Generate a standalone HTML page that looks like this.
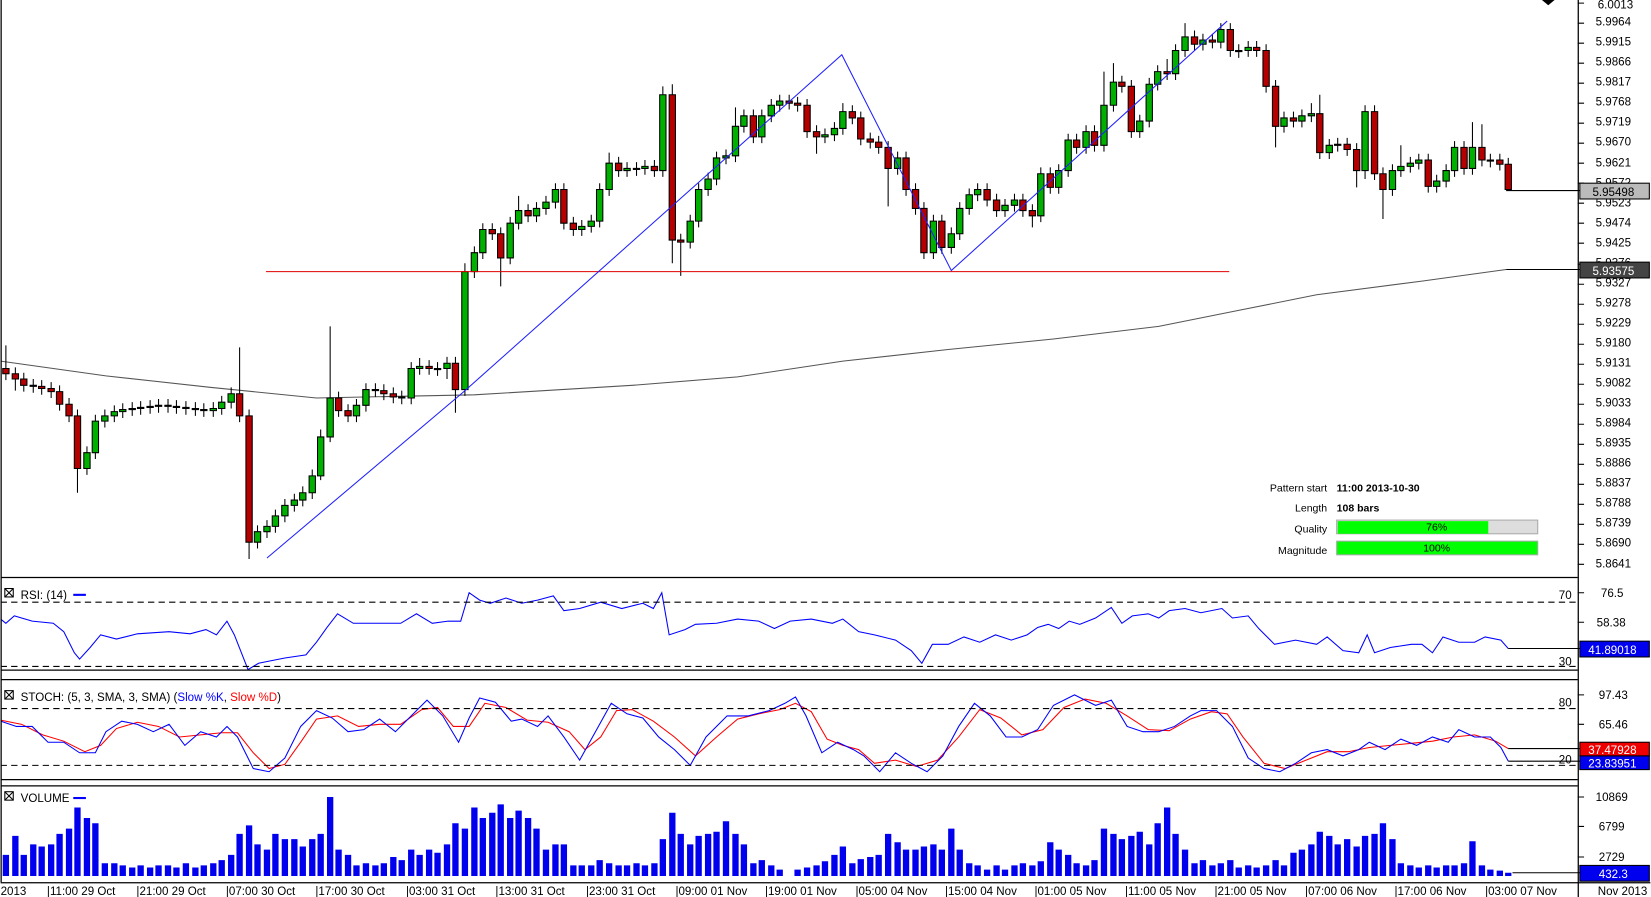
<!DOCTYPE html>
<html><head><meta charset="utf-8"><style>
html,body{margin:0;padding:0;background:#fff;}
svg{display:block;font-family:"Liberation Sans",Arial,sans-serif;}
</style></head><body>
<svg width="1651" height="897" viewBox="0 0 1567 852" xmlns="http://www.w3.org/2000/svg">
<rect x="0" y="0" width="1567" height="852" fill="#fff"/>
<polyline points="0,343 100,357 200,368 300,378 450,375 600,366 700,358 800,343 900,332 1000,322 1100,310 1180,294 1250,280 1350,267 1430,256" fill="none" stroke="#555" stroke-width="1"/>
<!-- wicks -->
<path stroke="#000" stroke-width="1" fill="none" d="M82,424V451M90,394V436M99,389V406M108,385V401M116,383V397M125,382V395M133,381V394M142,380V393M150,379V392M202,382V396M210,376V394M219,368V388M244,499V521M253,494V511M261,484V506M270,474V496M279,469V486M287,462V481M296,446V474M304,408V456M313,310V420M338,379V401M347,364V391M390,344V384M398,340V356M424,339V360M441,250V376M450,234V264M458,212V246M484,206V251M492,186V218M509,192V211M518,186V204M527,174V198M552,209V224M561,204V221M569,174V216M578,145V186M595,154V168M612,152V166M629,82V168M655,204V236M663,174V216M672,164V186M680,144V176M689,142V156M698,102V154M706,104V126M723,104V136M732,94V116M740,90V106M783,122V136M792,116V134M800,98V128M852,144V166M886,204V246M903,216V241M911,192V228M920,179V204M928,174V191M954,189V206M963,184V201M988,159V211M1005,156V184M1014,127V168M1031,119V146M1048,68V144M1057,60V106M1082,109V131M1091,74V121M1099,62V86M1116,42V76M1125,22V54M1142,32V48M1159,22V46M1185,39V54M1219,106V126M1236,104V121M1245,98V116M1262,132V151M1270,131V144M1296,100V170M1322,156V186M1330,138V168M1339,149V164M1347,146V161M1364,166V183M1373,156V178M1381,134V168M1398,116V166M5,328V361M14,349V371M22,354V372M31,360V373M39,361V375M48,363V378M56,366V390M65,378V401M73,389V468M159,379V392M167,380V393M176,381V394M185,382V395M193,383V396M227,330V401M236,389V531M321,372V396M330,384V401M356,364V377M364,365V380M373,368V383M381,371V384M407,342V356M415,344V357M432,339V392M467,212V228M475,216V272M501,194V211M535,174V218M544,206V224M587,149V168M604,154V167M621,152V168M638,80V250M646,222V262M715,104V136M749,90V104M757,92V106M766,94V131M775,119V146M809,100V118M817,106V138M826,126V141M834,129V146M843,134V196M860,144V186M869,174V204M877,192V246M894,204V241M937,174V196M946,184V206M971,184V206M980,194V216M997,159V184M1022,127V146M1039,119V144M1065,72V88M1074,76V131M1108,56V76M1134,29V48M1151,32V46M1168,22V54M1176,42V55M1193,39V54M1202,42V88M1211,76V140M1228,106V121M1253,90V151M1279,131V148M1288,136V178M1305,100V171M1313,159V208M1356,146V183M1390,134V166M1407,118V158M1415,146V159M1424,146V162M1432,150V181"/>
<path fill="#00b000" stroke="#000" stroke-width="1" d="M79,430h6v15h-6zM87,400h6v30h-6zM96,395h6v5h-6zM105,391h6v4h-6zM113,389h6v2h-6zM122,388h6v1h-6zM130,387h6v1h-6zM139,386h6v1h-6zM147,385h6v1h-6zM199,388h6v2h-6zM207,382h6v6h-6zM216,374h6v8h-6zM241,505h6v10h-6zM250,500h6v5h-6zM258,490h6v10h-6zM267,480h6v10h-6zM276,475h6v5h-6zM284,468h6v7h-6zM293,452h6v16h-6zM301,415h6v37h-6zM310,378h6v37h-6zM335,385h6v10h-6zM344,370h6v15h-6zM387,350h6v28h-6zM395,348h6v2h-6zM421,345h6v5h-6zM438,258h6v112h-6zM447,240h6v18h-6zM455,218h6v22h-6zM481,212h6v33h-6zM489,200h6v12h-6zM506,198h6v7h-6zM515,192h6v6h-6zM524,180h6v12h-6zM549,215h6v3h-6zM558,210h6v5h-6zM566,180h6v30h-6zM575,155h6v25h-6zM592,160h6v2h-6zM609,158h6v2h-6zM626,90h6v72h-6zM652,210h6v20h-6zM660,180h6v30h-6zM669,170h6v10h-6zM677,150h6v20h-6zM686,148h6v2h-6zM695,120h6v28h-6zM703,110h6v10h-6zM720,110h6v20h-6zM729,100h6v10h-6zM737,96h6v4h-6zM780,128h6v2h-6zM789,122h6v6h-6zM797,106h6v16h-6zM849,150h6v10h-6zM883,210h6v30h-6zM900,222h6v13h-6zM908,198h6v24h-6zM917,185h6v13h-6zM925,180h6v5h-6zM951,195h6v5h-6zM960,190h6v5h-6zM985,165h6v40h-6zM1002,162h6v16h-6zM1011,133h6v29h-6zM1028,125h6v15h-6zM1045,100h6v38h-6zM1054,78h6v22h-6zM1079,115h6v10h-6zM1088,80h6v35h-6zM1096,68h6v12h-6zM1113,48h6v22h-6zM1122,35h6v13h-6zM1139,38h6v4h-6zM1156,28h6v12h-6zM1182,45h6v3h-6zM1216,112h6v8h-6zM1233,110h6v5h-6zM1242,108h6v2h-6zM1259,138h6v7h-6zM1267,137h6v1h-6zM1293,106h6v56h-6zM1319,162h6v18h-6zM1327,158h6v4h-6zM1336,155h6v3h-6zM1344,152h6v3h-6zM1361,172h6v5h-6zM1370,162h6v10h-6zM1378,140h6v22h-6zM1395,140h6v20h-6z"/>
<path fill="#b40000" stroke="#000" stroke-width="1" d="M2,350h6v5h-6zM11,355h6v5h-6zM19,360h6v6h-6zM28,366h6v1h-6zM36,367h6v2h-6zM45,369h6v3h-6zM53,372h6v12h-6zM62,384h6v11h-6zM70,395h6v50h-6zM156,385h6v1h-6zM164,386h6v1h-6zM173,387h6v1h-6zM182,388h6v1h-6zM190,389h6v1h-6zM224,374h6v21h-6zM233,395h6v120h-6zM318,378h6v12h-6zM327,390h6v5h-6zM353,370h6v1h-6zM361,371h6v3h-6zM370,374h6v3h-6zM378,377h6v1h-6zM404,348h6v2h-6zM412,350h6v1h-6zM429,345h6v25h-6zM464,218h6v4h-6zM472,222h6v23h-6zM498,200h6v5h-6zM532,180h6v32h-6zM541,212h6v6h-6zM584,155h6v7h-6zM601,160h6v1h-6zM618,158h6v4h-6zM635,90h6v138h-6zM643,228h6v2h-6zM712,110h6v20h-6zM746,96h6v2h-6zM754,98h6v2h-6zM763,100h6v25h-6zM772,125h6v5h-6zM806,106h6v6h-6zM814,112h6v20h-6zM823,132h6v3h-6zM831,135h6v5h-6zM840,140h6v20h-6zM857,150h6v30h-6zM866,180h6v18h-6zM874,198h6v42h-6zM891,210h6v25h-6zM934,180h6v10h-6zM943,190h6v10h-6zM968,190h6v10h-6zM977,200h6v5h-6zM994,165h6v13h-6zM1019,133h6v7h-6zM1036,125h6v13h-6zM1062,78h6v4h-6zM1071,82h6v43h-6zM1105,68h6v2h-6zM1131,35h6v7h-6zM1148,38h6v2h-6zM1165,28h6v20h-6zM1173,48h6v1h-6zM1190,45h6v3h-6zM1199,48h6v34h-6zM1208,82h6v38h-6zM1225,112h6v3h-6zM1250,108h6v37h-6zM1276,137h6v5h-6zM1285,142h6v20h-6zM1302,106h6v59h-6zM1310,165h6v15h-6zM1353,152h6v25h-6zM1387,140h6v20h-6zM1404,140h6v12h-6zM1412,152h6v1h-6zM1421,152h6v4h-6zM1429,156h6v24h-6z"/>
<!-- pattern lines -->
<line x1="252" y1="258" x2="1167" y2="258" stroke="#e00000" stroke-width="1"/>
<polyline points="253,530 440,372 799,52 903,257 1165,20" fill="none" stroke="#2020ff" stroke-width="1"/>
<!-- RSI -->
<polyline fill="none" stroke="#0000ff" points="0,588 5,592 13,585 30,590 50,592 60,600 70,620 75,626 85,615 95,603 110,607 130,602 160,600 180,602 195,598 205,603 215,590 222,603 235,636 245,630 255,628 270,625 290,622 300,610 310,596 320,583 335,592 360,592 380,592 395,583 410,592 425,590 437,590 445,563 455,570 465,573 480,568 495,573 510,570 525,566 535,580 550,578 570,572 590,578 610,573 620,578 628,563 635,603 650,598 660,593 680,592 700,588 720,590 735,597 750,590 770,588 790,592 800,588 815,600 830,603 850,608 865,618 875,630 885,612 900,612 915,605 930,610 945,603 960,608 975,603 985,596 995,593 1005,597 1015,590 1025,593 1040,587 1055,577 1065,592 1075,585 1090,583 1100,587 1110,580 1125,578 1140,582 1160,578 1170,587 1185,585 1195,597 1210,612 1230,608 1250,612 1260,605 1275,618 1290,620 1298,603 1305,620 1320,615 1340,612 1350,612 1360,620 1370,605 1385,610 1400,610 1410,605 1425,608 1432,616"/>
<!-- STOCH -->
<polyline fill="none" stroke="#ff0000" points="0,684 20,688 40,698 60,704 80,714 95,708 110,692 130,686 150,690 170,700 190,698 210,696 225,696 240,715 255,730 270,726 285,705 300,683 320,680 340,690 360,688 380,688 400,674 415,672 430,690 445,690 460,668 480,672 500,684 520,686 540,695 555,712 570,700 585,675 600,674 620,685 640,700 660,718 680,700 700,683 720,678 740,674 755,668 770,676 785,702 800,708 815,712 830,725 850,722 870,728 890,722 910,700 930,674 950,682 970,698 990,693 1010,672 1030,664 1050,668 1070,680 1090,693 1110,694 1130,683 1150,676 1165,678 1180,700 1200,725 1220,730 1240,722 1260,714 1280,714 1300,710 1320,708 1340,706 1360,704 1380,700 1400,698 1420,704 1432,711"/>
<polyline fill="none" stroke="#0000ff" points="0,685 15,690 30,690 45,705 60,705 75,715 90,715 100,695 115,685 130,688 145,695 160,688 175,708 190,695 205,700 215,690 225,700 240,730 255,733 270,720 285,690 300,675 315,682 330,695 345,693 360,683 375,695 390,680 405,665 420,680 435,705 445,682 455,663 470,667 485,685 495,683 510,690 520,680 535,700 550,722 565,695 580,668 595,678 610,682 625,700 640,712 655,727 670,700 690,680 710,680 730,675 745,668 755,662 765,680 780,715 795,705 810,712 820,718 835,733 850,715 865,725 880,733 895,718 910,690 925,668 940,680 955,700 970,700 985,693 1000,670 1020,660 1040,670 1055,665 1070,690 1085,695 1100,695 1115,690 1130,680 1140,675 1155,675 1170,690 1185,720 1200,730 1215,733 1230,725 1245,715 1260,712 1275,718 1290,712 1300,705 1315,712 1330,702 1345,708 1360,700 1375,705 1385,693 1400,700 1415,700 1425,710 1432,723"/>
<!-- VOLUME -->
<path fill="#0000ee" d="M2,832v-20h6v20zM11,832v-38h6v38zM19,832v-20h6v20zM28,832v-30h6v30zM36,832v-28h6v28zM45,832v-30h6v30zM53,832v-40h6v40zM62,832v-45h6v45zM70,832v-65h6v65zM79,832v-55h6v55zM87,832v-50h6v50zM96,832v-12h6v12zM105,832v-12h6v12zM113,832v-10h6v10zM122,832v-8h6v8zM130,832v-10h6v10zM139,832v-8h6v8zM147,832v-10h6v10zM156,832v-10h6v10zM164,832v-8h6v8zM173,832v-12h6v12zM182,832v-8h6v8zM190,832v-10h6v10zM199,832v-12h6v12zM207,832v-15h6v15zM216,832v-20h6v20zM224,832v-40h6v40zM233,832v-48h6v48zM241,832v-30h6v30zM250,832v-25h6v25zM258,832v-40h6v40zM267,832v-35h6v35zM276,832v-35h6v35zM284,832v-28h6v28zM293,832v-35h6v35zM301,832v-40h6v40zM310,832v-75h6v75zM318,832v-25h6v25zM327,832v-20h6v20zM335,832v-10h6v10zM344,832v-12h6v12zM353,832v-10h6v10zM361,832v-12h6v12zM370,832v-18h6v18zM378,832v-15h6v15zM387,832v-25h6v25zM395,832v-20h6v20zM404,832v-25h6v25zM412,832v-22h6v22zM421,832v-30h6v30zM429,832v-50h6v50zM438,832v-45h6v45zM447,832v-65h6v65zM455,832v-55h6v55zM464,832v-60h6v60zM472,832v-68h6v68zM481,832v-55h6v55zM489,832v-62h6v62zM498,832v-55h6v55zM506,832v-45h6v45zM515,832v-25h6v25zM524,832v-30h6v30zM532,832v-30h6v30zM541,832v-10h6v10zM549,832v-10h6v10zM558,832v-10h6v10zM566,832v-15h6v15zM575,832v-12h6v12zM584,832v-10h6v10zM592,832v-10h6v10zM601,832v-12h6v12zM609,832v-10h6v10zM618,832v-12h6v12zM626,832v-35h6v35zM635,832v-60h6v60zM643,832v-40h6v40zM652,832v-30h6v30zM660,832v-38h6v38zM669,832v-40h6v40zM677,832v-42h6v42zM686,832v-52h6v52zM695,832v-40h6v40zM703,832v-30h6v30zM712,832v-12h6v12zM720,832v-15h6v15zM729,832v-10h6v10zM737,832v-6h6v6zM754,832v-6h6v6zM763,832v-8h6v8zM772,832v-10h6v10zM780,832v-14h6v14zM789,832v-20h6v20zM797,832v-28h6v28zM806,832v-12h6v12zM814,832v-16h6v16zM823,832v-18h6v18zM831,832v-20h6v20zM840,832v-40h6v40zM849,832v-32h6v32zM857,832v-25h6v25zM866,832v-25h6v25zM874,832v-28h6v28zM883,832v-30h6v30zM891,832v-25h6v25zM900,832v-45h6v45zM908,832v-25h6v25zM917,832v-12h6v12zM925,832v-10h6v10zM934,832v-6h6v6zM943,832v-10h6v10zM951,832v-6h6v6zM960,832v-10h6v10zM968,832v-12h6v12zM977,832v-10h6v10zM985,832v-14h6v14zM994,832v-32h6v32zM1002,832v-25h6v25zM1011,832v-20h6v20zM1019,832v-12h6v12zM1028,832v-10h6v10zM1036,832v-15h6v15zM1045,832v-45h6v45zM1054,832v-40h6v40zM1062,832v-35h6v35zM1071,832v-38h6v38zM1079,832v-42h6v42zM1088,832v-30h6v30zM1096,832v-50h6v50zM1105,832v-65h6v65zM1113,832v-40h6v40zM1122,832v-25h6v25zM1131,832v-12h6v12zM1139,832v-15h6v15zM1148,832v-10h6v10zM1156,832v-12h6v12zM1165,832v-15h6v15zM1173,832v-8h6v8zM1182,832v-10h6v10zM1190,832v-8h6v8zM1199,832v-10h6v10zM1208,832v-15h6v15zM1216,832v-10h6v10zM1225,832v-22h6v22zM1233,832v-25h6v25zM1242,832v-30h6v30zM1250,832v-42h6v42zM1259,832v-38h6v38zM1267,832v-30h6v30zM1276,832v-35h6v35zM1285,832v-28h6v28zM1293,832v-38h6v38zM1302,832v-40h6v40zM1310,832v-50h6v50zM1319,832v-35h6v35zM1327,832v-12h6v12zM1336,832v-10h6v10zM1344,832v-8h6v8zM1353,832v-10h6v10zM1361,832v-8h6v8zM1370,832v-10h6v10zM1378,832v-10h6v10zM1387,832v-12h6v12zM1395,832v-33h6v33zM1404,832v-10h6v10zM1412,832v-6h6v6zM1421,832v-5h6v5zM1429,832v-3h6v3z"/>
<!-- panel frames -->
<g stroke="#000" stroke-width="1.2" fill="none">
<line x1="0.5" y1="0" x2="0.5" y2="838"/>
<line x1="1498.5" y1="0" x2="1498.5" y2="852"/>
<line x1="0" y1="548.5" x2="1498" y2="548.5"/>
<line x1="0" y1="636.5" x2="1498" y2="636.5"/>
<line x1="0" y1="645.5" x2="1498" y2="645.5"/>
<line x1="0" y1="740.5" x2="1498" y2="740.5"/>
<line x1="0" y1="746.5" x2="1498" y2="746.5"/>
<line x1="0" y1="838.5" x2="1567" y2="838.5"/>
</g>
<polygon points="1464,0 1476,0 1470,5" fill="#000"/>
<g stroke="#000" stroke-dasharray="6,4" stroke-width="1">
<line x1="0" y1="572" x2="1498" y2="572"/><line x1="0" y1="633" x2="1498" y2="633"/>
<line x1="0" y1="673" x2="1498" y2="673"/><line x1="0" y1="727" x2="1498" y2="727"/>
</g>
<g font-size="11" fill="#000">
<text x="1480" y="569">70</text><text x="1480" y="632">30</text>
<text x="1480" y="671">80</text><text x="1480" y="725">20</text>
</g>
<path stroke="#000" d="M1498,3h6M1498,22h6M1498,41h6M1498,60h6M1498,79h6M1498,98h6M1498,117h6M1498,136h6M1498,155h6M1498,174h6M1498,193h6M1498,212h6M1498,231h6M1498,251h6M1498,270h6M1498,289h6M1498,308h6M1498,327h6M1498,346h6M1498,365h6M1498,384h6M1498,403h6M1498,422h6M1498,441h6M1498,460h6M1498,479h6M1498,498h6M1498,517h6M1498,536h6M1498,563h6M1498,591h6M1498,660h6M1498,688h6M1498,757h6M1498,785h6M1498,814h6"/>
<g font-size="11" fill="#000">
<text x="1517" y="8">6.0013</text><text x="1515" y="24">5.9964</text><text x="1515" y="43">5.9915</text><text x="1515" y="62">5.9866</text><text x="1515" y="81">5.9817</text><text x="1515" y="100">5.9768</text><text x="1515" y="119">5.9719</text><text x="1515" y="138">5.9670</text><text x="1515" y="158">5.9621</text><text x="1515" y="177">5.9572</text><text x="1515" y="196">5.9523</text><text x="1515" y="215">5.9474</text><text x="1515" y="234">5.9425</text><text x="1515" y="253">5.9376</text><text x="1515" y="272">5.9327</text><text x="1515" y="291">5.9278</text><text x="1515" y="310">5.9229</text><text x="1515" y="329">5.9180</text><text x="1515" y="348">5.9131</text><text x="1515" y="367">5.9082</text><text x="1515" y="386">5.9033</text><text x="1515" y="405">5.8984</text><text x="1515" y="424">5.8935</text><text x="1515" y="443">5.8886</text><text x="1515" y="462">5.8837</text><text x="1515" y="481">5.8788</text><text x="1515" y="500">5.8739</text><text x="1515" y="519">5.8690</text><text x="1515" y="539">5.8641</text>
<text x="1520" y="567">76.5</text><text x="1516" y="595">58.38</text>
<text x="1518" y="664">97.43</text><text x="1518" y="692">65.46</text>
<text x="1515" y="761">10869</text><text x="1518" y="789">6799</text><text x="1518" y="818">2729</text>
</g>
<line x1="1430" y1="181" x2="1500" y2="181" stroke="#000"/>
<rect x="1500" y="174" width="66" height="15" fill="#bbb" stroke="#000"/>
<text x="1512" y="186" font-size="11" fill="#000">5.95498</text>
<line x1="1430" y1="256" x2="1500" y2="256" stroke="#000"/>
<rect x="1500" y="249" width="66" height="15" fill="#444" stroke="#000"/>
<text x="1512" y="261" font-size="11" fill="#fff">5.93575</text>
<line x1="1432" y1="616" x2="1500" y2="616" stroke="#000"/>
<rect x="1500" y="609" width="66" height="15" fill="#0000ee" stroke="#000"/>
<text x="1508" y="621" font-size="11" fill="#fff">41.89018</text>
<line x1="1432" y1="711" x2="1500" y2="711" stroke="#000"/>
<line x1="1432" y1="723" x2="1500" y2="723" stroke="#000"/>
<rect x="1500" y="705" width="66" height="13" fill="#ee0000" stroke="#000"/>
<text x="1508" y="716" font-size="11" fill="#fff">37.47928</text>
<rect x="1500" y="718" width="66" height="13" fill="#0000ee" stroke="#000"/>
<text x="1508" y="729" font-size="11" fill="#fff">23.83951</text>
<line x1="1436" y1="829" x2="1500" y2="829" stroke="#000"/>
<rect x="1500" y="822" width="66" height="15" fill="#0000ee" stroke="#000"/>
<text x="1518" y="834" font-size="11" fill="#fff">432.3</text>
<g font-size="11">
<rect x="4" y="559" width="8" height="8" fill="none" stroke="#000"/><path d="M4 559L12 567M12 559L4 567" stroke="#000"/>
<text x="19" y="569" fill="#000">RSI: (14)</text><line x1="69" y1="565" x2="81" y2="565" stroke="#00f" stroke-width="2"/>
<rect x="4" y="656" width="8" height="8" fill="none" stroke="#000"/><path d="M4 656L12 664M12 656L4 664" stroke="#000"/>
<text x="19" y="666" fill="#000">STOCH: (5, 3, SMA, 3, SMA) (<tspan fill="#00f">Slow %K</tspan>, <tspan fill="#f00">Slow %D</tspan>)</text>
<rect x="4" y="752" width="8" height="8" fill="none" stroke="#000"/><path d="M4 752L12 760M12 752L4 760" stroke="#000"/>
<text x="19" y="762" fill="#000">VOLUME</text><line x1="69" y1="758" x2="81" y2="758" stroke="#00f" stroke-width="2"/>
</g>
<g font-size="10" fill="#000">
<text x="1260" y="467" text-anchor="end">Pattern start</text><text x="1269" y="467" font-weight="bold">11:00 2013-10-30</text>
<text x="1260" y="486" text-anchor="end">Length</text><text x="1269" y="486" font-weight="bold">108 bars</text>
<text x="1260" y="506" text-anchor="end">Quality</text>
<text x="1260" y="526" text-anchor="end">Magnitude</text>
</g>
<rect x="1269" y="494" width="191" height="13" fill="#ddd" stroke="#aaa"/>
<rect x="1270" y="495" width="143" height="12" fill="#00ff00"/>
<text x="1364" y="504" font-size="10" text-anchor="middle">76%</text>
<rect x="1269" y="514" width="191" height="13" fill="#00ff00" stroke="#aaa"/>
<text x="1364" y="524" font-size="10" text-anchor="middle">100%</text>
<g font-size="11" fill="#000">
<text x="0" y="850">2013</text>
<text x="44" y="850">|11:00 29 Oct</text><text x="129" y="850">|21:00 29 Oct</text><text x="214" y="850">|07:00 30 Oct</text><text x="299" y="850">|17:00 30 Oct</text><text x="385" y="850">|03:00 31 Oct</text><text x="470" y="850">|13:00 31 Oct</text><text x="556" y="850">|23:00 31 Oct</text><text x="641" y="850">|09:00 01 Nov</text><text x="726" y="850">|19:00 01 Nov</text><text x="812" y="850">|05:00 04 Nov</text><text x="897" y="850">|15:00 04 Nov</text><text x="982" y="850">|01:00 05 Nov</text><text x="1068" y="850">|11:00 05 Nov</text><text x="1153" y="850">|21:00 05 Nov</text><text x="1239" y="850">|07:00 06 Nov</text><text x="1324" y="850">|17:00 06 Nov</text><text x="1410" y="850">|03:00 07 Nov</text>
<text x="1517" y="850">Nov 2013</text>
</g>
</svg>
</body></html>
